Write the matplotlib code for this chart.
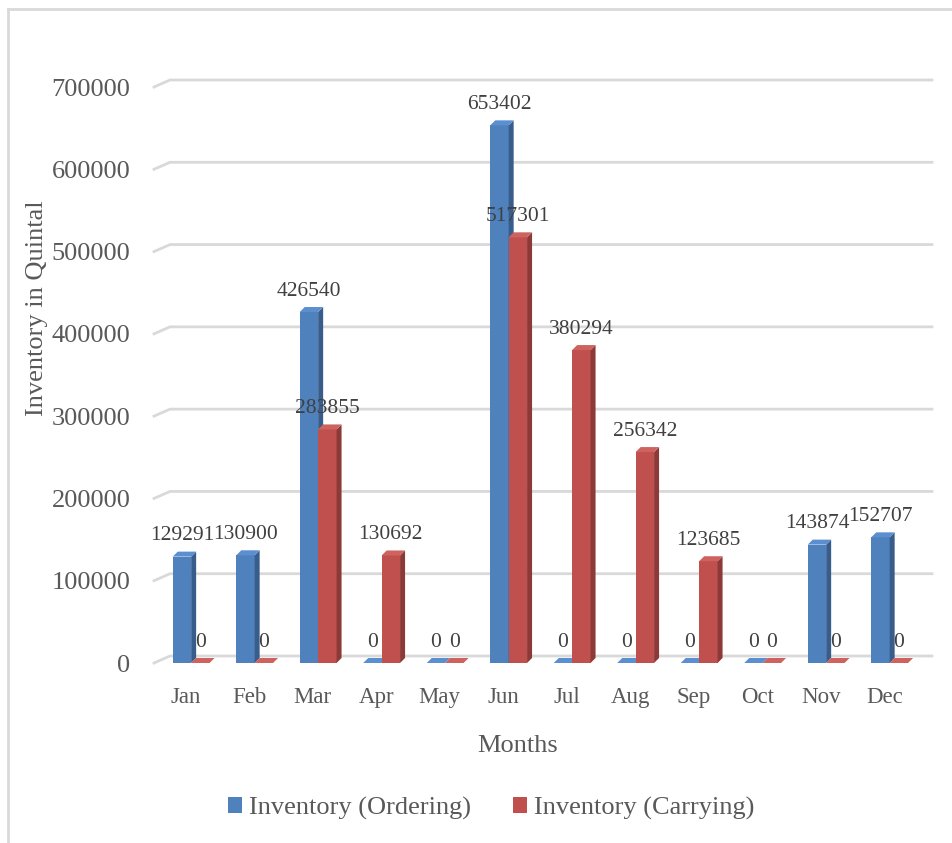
import numpy as np
import matplotlib.pyplot as plt
from matplotlib.patches import Polygon, Patch
from matplotlib.lines import Line2D

months = ['Jan', 'Feb', 'Mar', 'Apr', 'May', 'Jun',
          'Jul', 'Aug', 'Sep', 'Oct', 'Nov', 'Dec']
ordering = [129291, 130900, 426540, 0, 0, 653402, 0, 0, 0, 0, 143874, 152707]
carrying = [0, 0, 283855, 130692, 0, 517301, 380294, 256342, 123685, 0, 0, 0]
yticks = np.arange(0, 700001, 100000)

plt.rcParams['font.family'] = ['Liberation Serif', 'DejaVu Serif']

W, H = 952, 843
fig = plt.figure(figsize=(W / 100, H / 100), dpi=100)
ax_w, ax_h = 762, 576
ax = fig.add_axes([154 / W, (H - 663) / H, ax_w / W, ax_h / H])
ax.set_xlim(-0.5, len(months) - 0.5)
ax.set_ylim(0, 700000)

# pixel -> data conversions for the fake 3d depth
ux = ax_w / len(months)
uy = ax_h / 700000
bdx, bdy = 5 / ux, 5 / uy         # bar depth
gdx, gdy = 16 / ux, 7 / uy        # back wall offset

grid_c = '#d9d9d9'
for v in yticks:
    ax.plot([-0.5, -0.5 + gdx, len(months) - 0.5 + gdx], [v, v + gdy, v + gdy],
            color=grid_c, lw=2, clip_on=False, zorder=1)

x = np.arange(len(months))
bw = 0.29
series = [
    (ordering, x - 0.06, '#4F81BD', '#385D8A', '#5B8FD0', 3),
    (carrying, x + 0.23, '#C0504D', '#8C3A37', '#CD625F', 4),
]
for vals, xc, front, side, top, z in series:
    ax.bar(xc, vals, bw, color=front, zorder=z)
    for xi, h in zip(xc, vals):
        r = xi + bw / 2
        l = xi - bw / 2
        ax.add_patch(Polygon([(r, 0), (r + bdx, bdy), (r + bdx, h + bdy), (r, h)],
                             fc=side, ec='none', zorder=z + 0.5))
        ax.add_patch(Polygon([(l, h), (r, h), (r + bdx, h + bdy), (l + bdx, h + bdy)],
                             fc=top, ec='none', zorder=z + 0.5))
        ax.annotate(str(h), (xi, h), xytext=(0, 15), textcoords='offset points',
                    ha='center', va='center', fontsize=15.5, color='#404040', zorder=6)

ax.set_yticks(yticks)
ax.set_yticklabels([str(v) for v in yticks], fontsize=19, color='#595959')
ax.set_xticks(x)
ax.set_xticklabels(months, fontsize=16.5, color='#595959')
ax.tick_params(axis='y', length=0, pad=17)
ax.tick_params(axis='x', length=0, pad=17)
for s in ax.spines.values():
    s.set_visible(False)

fig.text(518 / W, 1 - 746 / H, 'Months', ha='center', va='center',
         fontsize=19, color='#595959')
fig.text(37 / W, 1 - 308 / H, 'Inventory in Quintal', ha='center', va='center',
         rotation=90, fontsize=19, color='#595959')

handles = [Patch(fc='#4F81BD'), Patch(fc='#C0504D')]
fig.legend(handles, ['Inventory (Ordering)', 'Inventory (Carrying)'],
           loc='center', bbox_to_anchor=(491 / W, 1 - 808 / H), ncol=2,
           frameon=False, fontsize=19, handlelength=0.55, handleheight=0.55,
           handletextpad=0.25, columnspacing=1.6, labelcolor='#595959')

# chart frame (only left and top edges visible)
fig.add_artist(Line2D([8 / W, 8 / W], [0, 1 - 9 / H], transform=fig.transFigure,
                      color=grid_c, lw=2))
fig.add_artist(Line2D([8 / W, 1], [1 - 9 / H, 1 - 9 / H], transform=fig.transFigure,
                      color=grid_c, lw=2))

fig.savefig('out.png', dpi=100)
